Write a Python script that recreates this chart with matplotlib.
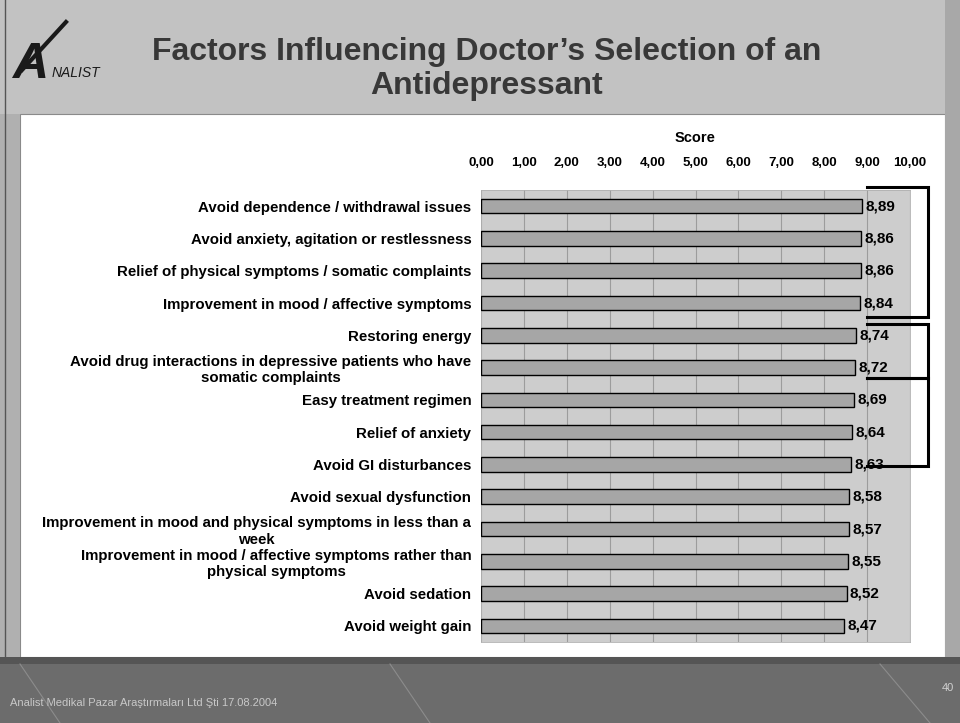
import numpy as np
import matplotlib.pyplot as plt
from matplotlib.patches import Rectangle

plt.rcParams['font.family'] = ['Liberation Sans', 'DejaVu Sans']

# survey items, best-rated first
factors = [
    'Avoid dependence / withdrawal issues',
    'Avoid anxiety, agitation or restlessness',
    'Relief of physical symptoms / somatic complaints',
    'Improvement in mood / affective symptoms',
    'Restoring energy',
    'Avoid drug interactions in depressive patients who have\nsomatic complaints',
    'Easy treatment regimen',
    'Relief of anxiety',
    'Avoid GI disturbances',
    'Avoid sexual dysfunction',
    'Improvement in mood and physical symptoms in less than a\nweek',
    'Improvement in mood / affective symptoms rather than\nphysical symptoms',
    'Avoid sedation',
    'Avoid weight gain',
]
scores = [8.89, 8.86, 8.86, 8.84, 8.74, 8.72, 8.69, 8.64, 8.63, 8.58, 8.57, 8.55, 8.52, 8.47]
score_ticks = [0, 1, 2, 3, 4, 5, 6, 7, 8, 9, 10]

title = "Factors Influencing Doctor\u2019s Selection of an\nAntidepressant"
footer = 'Analist Medikal Pazar Ara\u015ft\u0131rmalar\u0131 Ltd \u015eti 17.08.2004'
page_no = '40'

# bracket spans in row units (top, bottom), drawn right of the bars
bracket_rows = [(-0.6, 3.43), (3.65, 5.32), (5.32, 8.05)]


def fmt(v):
    return ('%.2f' % v).replace('.', ',')


fig = plt.figure(figsize=(9.6, 7.23), dpi=100)
fig.patch.set_facecolor('#c2c2c2')

W, H = 960.0, 723.0
def fx(px):
    return px / W
def fy(py):
    return 1 - py / H

# slide frame: white panel and dark footer band
fig.patches.append(Rectangle((fx(20), fy(657)), fx(945) - fx(20), fy(114) - fy(657),
                             transform=fig.transFigure, facecolor='white',
                             edgecolor='#8a8a8a', lw=0.8, zorder=-2))
fig.patches.append(Rectangle((0, 0), 1, fy(657), transform=fig.transFigure,
                             facecolor='#6c6c6c', edgecolor='none', zorder=-2))
fig.patches.append(Rectangle((0, fy(664)), 1, fy(657) - fy(664), transform=fig.transFigure,
                             facecolor='#555555', edgecolor='none', zorder=-2))
fig.patches.append(Rectangle((fx(945), fy(657)), 1 - fx(945), fy(0) - fy(657),
                             transform=fig.transFigure, facecolor='#a8a8a8',
                             edgecolor='none', zorder=-2))
fig.patches.append(Rectangle((0, fy(657)), fx(20), fy(114) - fy(657),
                             transform=fig.transFigure, facecolor='#b0b0b0',
                             edgecolor='none', zorder=-2))
fig.lines.append(plt.Line2D([fx(5), fx(5)], [fy(0), fy(657)], transform=fig.transFigure,
                            color='#555555', lw=1, zorder=-1))
for x0, x1 in [(20, 60), (390, 430), (880, 930)]:
    fig.lines.append(plt.Line2D([fx(x0), fx(x1)], [fy(664), fy(723)],
                                transform=fig.transFigure, color='#8c8c8c', lw=0.8,
                                zorder=-1))

# logo
fig.text(fx(12), fy(78), 'A', fontsize=36, fontweight='bold', style='italic',
         color='#1a1a1a', ha='left', va='baseline')
fig.lines.append(plt.Line2D([fx(22), fx(66)], [fy(70), fy(22)], transform=fig.transFigure,
                            color='#1a1a1a', lw=3))
fig.text(fx(52), fy(77), 'NALIST', fontsize=10, style='italic', color='#1a1a1a',
         ha='left', va='baseline')

fig.text(fx(487), fy(69), title, fontsize=23, fontweight='bold', color='#383838',
         ha='center', va='center', linespacing=1.15)

fig.text(fx(10), fy(703), footer, fontsize=8, color='#c8c8c8', ha='left', va='center')
fig.text(fx(942), fy(688), page_no, fontsize=8, color='#d0d0d0', ha='left', va='center')

ax = fig.add_axes([fx(481), fy(642), fx(910) - fx(481), fy(190) - fy(642)])
ax.set_facecolor('#cdcdcd')

y = np.arange(len(factors))
ax.barh(y, scores, height=0.45, color='#a6a6a6', edgecolor='black', lw=1.0, zorder=3)
for yi, s in zip(y, scores):
    ax.text(s + 0.08, yi, fmt(s), fontsize=11, fontweight='bold', va='center', ha='left',
            zorder=4)

ax.set_xlim(0, 10)
ax.set_ylim(len(factors) - 0.5, -0.5)
ax.xaxis.tick_top()
ax.xaxis.set_label_position('top')
ax.set_xticks(score_ticks)
ax.set_xticklabels([fmt(t) for t in score_ticks], fontsize=9.5, fontweight='bold')
ax.tick_params(axis='x', length=0, pad=15)
ax.set_xlabel('Score', fontsize=10.5, fontweight='bold', labelpad=11)
ax.set_yticks(y)
ax.set_yticklabels(factors, fontsize=10.8, fontweight='bold', linespacing=1.2)
for lab in ax.get_yticklabels():
    lab.set_multialignment('center')
ax.tick_params(axis='y', length=0, pad=7)
ax.grid(axis='x', color='#9c9c9c', lw=0.8, zorder=1)
for sp in ax.spines.values():
    sp.set_color('#b0b0b0')
    sp.set_linewidth(0.6)

# brackets grouping the top items
for top, bot in bracket_rows:
    ax.plot([9.0, 10.42, 10.42, 9.0], [top, top, bot, bot], color='black', lw=2.2,
            clip_on=False, zorder=5, solid_joinstyle='miter')

fig.savefig('out.png', dpi=100, facecolor=fig.get_facecolor())
